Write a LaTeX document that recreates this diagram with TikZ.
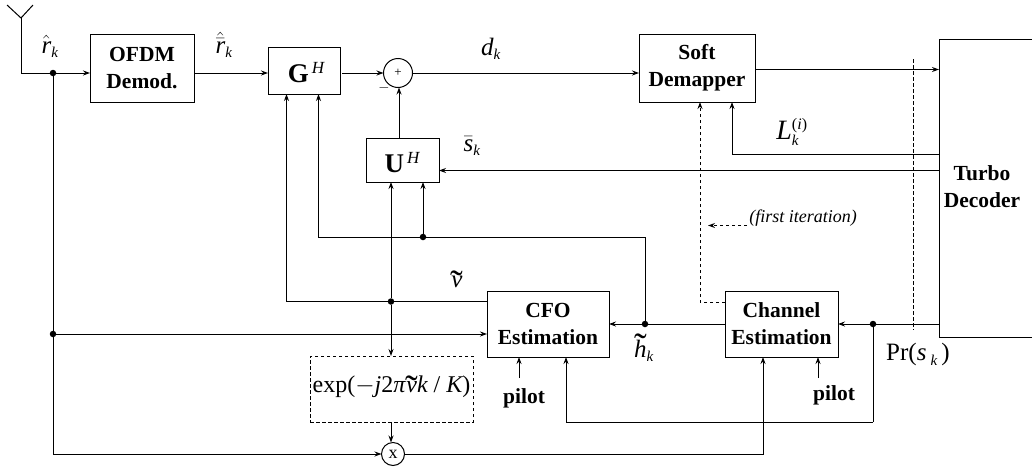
\documentclass[tikz,border=0pt]{standalone}
\usepackage{fontspec}
\setmainfont{Liberation Serif}
\usetikzlibrary{arrows.meta,calc}
\newcommand{\mi}[1]{\mbox{\itshape #1}}
\newcommand{\subk}{_{\mbox{\fontsize{15}{15}\selectfont\itshape k}}}
% a wide tilde over a letter: #1 height shift, #2 letter
\newcommand{\wtil}[2]{\setbox0\hbox{\itshape #2}\hbox{\rlap{\makebox[\wd0]{\raisebox{#1}{\fontsize{38}{38}\selectfont ˜}}}\box0}}
\tikzset{
  block/.style={draw,rectangle,inner sep=0pt,outer sep=0pt,line width=1pt,align=center,
    font=\fontsize{21.5}{27}\selectfont\bfseries},
  dblock/.style={block,dashed,dash pattern=on 3.5pt off 2.5pt,font=\fontsize{24}{27}\selectfont},
  circ/.style={draw,circle,inner sep=0pt,outer sep=0pt,line width=1pt},
  dot/.style={fill=black,circle,inner sep=0pt,outer sep=0pt,minimum size=6.5pt},
  lbl/.style={inner sep=0pt,font=\fontsize{25}{27}\selectfont},
  wire/.style={line width=1pt},
  arr/.style={wire,-{Stealth[length=7pt,width=5pt]}},
  darr/.style={arr,dash pattern=on 3.5pt off 2.5pt},
  dwire/.style={wire,dash pattern=on 3.5pt off 2.5pt}
}
\begin{document}
\begin{tikzpicture}[x=1pt,y=-1pt]
\path[use as bounding box,clip] (0,0) rectangle (1032,466);
% blocks
\node[block,minimum width=104pt,minimum height=68pt] (ofdm) at (142,68) {OFDM\\Demod.};
\node[block,minimum width=72pt,minimum height=47pt] (g) at (304,70.5) {};
\node[lbl] (gl) at (306,73) {\fontsize{27}{27}\selectfont\textbf{G}\raisebox{9pt}{\fontsize{17}{17}\selectfont\itshape\,H}};
\node[block,minimum width=73pt,minimum height=44pt] (u) at (402.5,160) {};
\node[lbl] (ul) at (402,163) {\fontsize{27}{27}\selectfont\textbf{U}\raisebox{9pt}{\fontsize{17}{17}\selectfont\itshape\,H}};
\node[block,minimum width=116pt,minimum height=68pt] (dem) at (697,68) {Soft\\Demapper};
\node[block,minimum width=122pt,minimum height=66pt] (cfo) at (548,324) {CFO\\Estimation};
\node[block,minimum width=113pt,minimum height=66pt] (chan) at (781.5,324) {Channel\\Estimation};
\node[block,minimum width=101pt,minimum height=298pt] (turbo) at (989.5,188) {};
\node[inner sep=0pt,align=center,font=\fontsize{21.5}{27}\selectfont\bfseries] (turbol) at (982,187) {Turbo\\Decoder};
\node[dblock,minimum width=163pt,minimum height=66pt] (exp) at (391.5,389)
  {exp($-$\mi{j}2\mi{π}\kern1pt\wtil{-9pt}{ν}\mi{k} / \mi{K})};
\node[circ,minimum size=29pt] (sum) at (398,73) {\fontsize{13}{13}\selectfont +};
\node[circ,minimum size=23pt] (mul) at (393,454) {\fontsize{18}{18}\selectfont x};
% junctions
\node[dot] (jr) at (53,73) {};
\node[dot] (jrc) at (53,334) {};
\node[dot] (jv) at (391,301.5) {};
\node[dot] (jh) at (423,237) {};
\node[dot] (jf) at (645,324) {};
\node[dot] (jp) at (873,324) {};
% free ends
\coordinate (ant) at (21,18);
\coordinate (antl) at (7,5);
\coordinate (antr) at (33,5);
\coordinate (ghi) at (318.5,94);
\coordinate (glo) at (286.5,94);
\coordinate (tL) at (939,154);
\coordinate (tS) at (939,170.5);
\coordinate (tO) at (939,69.5);
\coordinate (tP) at (939,324);
\coordinate (pc1) at (519,378);
\coordinate (pc2) at (818,378);
\coordinate (cutT) at (913,59);
\coordinate (cutB) at (913,330);
\coordinate (fiS) at (747,225.5);
\coordinate (fiE) at (708,225.5);
% connectors
\draw[wire] (antl) -- (ant) -- (antr);
\draw[wire] (ant) |- (jr);
\draw[arr] (jr) -- (ofdm.west |- jr);
\draw[arr] (ofdm.east |- jr) -- (g.west |- jr);
\draw[arr] (342,73) -- (sum.west);
\draw[arr] (sum.east) -- (dem.west |- sum);
\draw[arr] (u.north -| 399,0) -- (sum.south -| 399,0);
\draw[arr] (dem.east |- tO) -- (tO);
\draw[arr] (tL) -| (732,102);
\draw[arr] (tS) -- (u.east |- tS);
\draw[wire] (jr) -- (jrc);
\draw[arr] (jrc) -- (cfo.west |- jrc);
\draw[arr] (jrc) |- (mul.west);
\draw[arr] (cfo.west |- jv) -| (glo);
\draw[arr] (jv) -- (u.south -| jv);
\draw[arr] (jv) -- (exp.north -| jv);
\draw[arr] (exp.south -| jv) -- (mul.north -| jv);
\draw[wire] (jf) |- (jh);
\draw[arr] (jh) -- (u.south -| jh);
\draw[arr] (jh) -| (ghi);
\draw[arr] (chan.west) -- (cfo.east);
\draw[arr] (tP) -- (chan.east);
\draw[wire] (jp) -- (873,422);
\draw[arr] (873,422) -| (cfo.south -| 566,0);
\draw[arr] (mul.east) -| (chan.south -| 763,0);
\draw[arr] (pc1) -- (cfo.south -| pc1);
\draw[arr] (pc2) -- (chan.south -| pc2);
\draw[darr] (chan.west |- 0,302) -| (dem.south -| 700,0);
\draw[dwire] (cutT) -- (cutB);
\draw[darr] (fiS) -- (fiE);
% labels
\node[lbl] (lr) at (50,46) {$\hat{\mi{r}}\subk$};
\node[lbl] (lrb) at (224,45) {$\hat{\bar{\mi{r}}}\subk$};
\node[lbl] (ld) at (491,49) {$\mi{d}\subk$};
\node[lbl] (ls) at (472,146) {$\bar{\mi{s}}\subk$};
\node[lbl,font=\fontsize{28}{28}\selectfont] (lL) at (792,132) {$\mi{L}\subk^{\mbox{\fontsize{16}{16}\selectfont(\itshape i\upshape)}}$};
\node[lbl] (ln) at (457,284) {\wtil{-9pt}{ν}};
\node[lbl] (lh) at (644,348) {$\mbox{\wtil{-2pt}{h}}\subk$};
\node[lbl] (lp) at (918,354) {Pr(\mi{s}\,\raisebox{-5pt}{\fontsize{15}{15}\selectfont\itshape k}\,)};
\node[inner sep=0pt,font=\fontsize{18}{20}\selectfont\itshape] (lfi) at (803,218) {(first iteration)};
\node[inner sep=0pt,font=\fontsize{21.5}{27}\selectfont\bfseries] (p1) at (524,398) {pilot};
\node[inner sep=0pt,font=\fontsize{21.5}{27}\selectfont\bfseries] (p2) at (834,395) {pilot};
\node[inner sep=0pt,font=\fontsize{14}{14}\selectfont] (minus) at (384,88) {$-$};
\end{tikzpicture}
\end{document}
